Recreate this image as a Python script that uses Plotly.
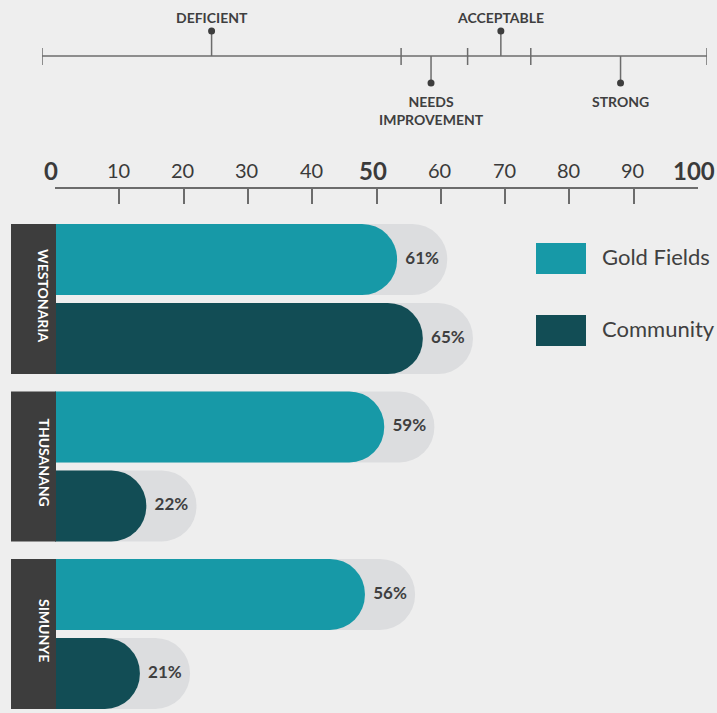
import plotly.graph_objects as go

W, H = 717, 713

# ---------------- data ----------------
GROUPS = ["WESTONARIA", "THUSANANG", "SIMUNYE"]
SERIES = ["Gold Fields", "Community"]
GOLD_FIELDS = [61, 59, 56]
COMMUNITY = [65, 22, 21]

TICK_VALUES = [0, 10, 20, 30, 40, 50, 60, 70, 80, 90, 100]
TICK_LABELS = ["0", "10", "20", "30", "40", "50", "60", "70", "80", "90", "100"]
MAJOR_TICKS = [0, 50, 100]

RATING_LABELS = ["DEFICIENT", "NEEDS<br>IMPROVEMENT", "ACCEPTABLE", "STRONG"]
RATING_POS = [25.5, 58.5, 69, 87]
RATING_SIDE = [1, -1, 1, -1]          # 1 = label above the line, -1 = below
RATING_BOUNDS = [0, 54, 64, 73.5, 100]

# ---------------- styles ----------------
BG = "#eeeeee"
COLORS = ["#1799a7", "#124d55"]
PILL = "#dcdddf"
BOX = "#3d3d3d"
TEXT = "#3f3f3f"
LINE = "#6c6c6c"
FONT = "Lato"

GROUP_STEP = 2.12     # y-units between groups (one bar slot = 1)
BAR_W = 0.9
LABEL_GAP = 7.8       # axis units between coloured end and pill end
Y_RANGE = [5.741, -3.285]
X_DOMAIN = [55 / W, 698 / W]


def ypos(g, s):
    return g * GROUP_STEP + s


fig = go.Figure()

series_vals = [GOLD_FIELDS, COMMUNITY]

# grey pills (x / y)
for s, vals in enumerate(series_vals):
    fig.add_trace(go.Bar(
        x=vals, y=[ypos(g, s) for g in range(len(GROUPS))], orientation="h",
        width=BAR_W, marker=dict(color=PILL, cornerradius="50%", line=dict(width=0)),
        hoverinfo="skip", showlegend=False, xaxis="x", yaxis="y"))

# coloured bars (x3 / y3, overlaying the same scales)
for s, vals in enumerate(series_vals):
    fig.add_trace(go.Bar(
        x=[v - LABEL_GAP for v in vals], y=[ypos(g, s) for g in range(len(GROUPS))],
        orientation="h", width=BAR_W, name=SERIES[s],
        marker=dict(color=COLORS[s], cornerradius="50%", line=dict(width=0)),
        hoverinfo="skip", showlegend=False, xaxis="x3", yaxis="y3"))

# value labels
for s, vals in enumerate(series_vals):
    fig.add_trace(go.Scatter(
        x=[v - LABEL_GAP / 2 for v in vals], y=[ypos(g, s) for g in range(len(GROUPS))],
        mode="text", text=[f"<b>{v}%</b>" for v in vals],
        textfont=dict(family=FONT, size=17, color=TEXT), textposition="middle center",
        hoverinfo="skip", showlegend=False, xaxis="x3", yaxis="y3"))

# ---------------- top rating scale ----------------
STEM_UP, STEM_DOWN = 25, 27
fig.add_trace(go.Scatter(x=[RATING_BOUNDS[0], RATING_BOUNDS[-1]], y=[0, 0], mode="lines",
                         line=dict(color=LINE, width=1.5), hoverinfo="skip",
                         showlegend=False, xaxis="x2", yaxis="y2"))
bx, by = [], []
for b in RATING_BOUNDS:
    bx += [b, b, None]
    by += [-9, 8, None]
fig.add_trace(go.Scatter(x=bx, y=by, mode="lines", line=dict(color=LINE, width=1.5),
                         hoverinfo="skip", showlegend=False, xaxis="x2", yaxis="y2"))
sx, sy, dx, dy = [], [], [], []
for p, sd in zip(RATING_POS, RATING_SIDE):
    end = STEM_UP if sd > 0 else -STEM_DOWN
    sx += [p, p, None]
    sy += [0, end, None]
    dx.append(p)
    dy.append(end)
fig.add_trace(go.Scatter(x=sx, y=sy, mode="lines", line=dict(color=LINE, width=1.5),
                         hoverinfo="skip", showlegend=False, xaxis="x2", yaxis="y2"))
fig.add_trace(go.Scatter(x=dx, y=dy, mode="markers", marker=dict(color=BOX, size=7),
                         hoverinfo="skip", showlegend=False, xaxis="x2", yaxis="y2"))

annotations = []
for lab, p, sd in zip(RATING_LABELS, RATING_POS, RATING_SIDE):
    if sd > 0:
        annotations.append(dict(x=p, y=39, xref="x2", yref="y2", text=f"<b>{lab}</b>",
                                showarrow=False, yanchor="middle",
                                font=dict(family=FONT, size=14, color=TEXT)))
    else:
        annotations.append(dict(x=p, y=-35, xref="x2", yref="y2", text=f"<b>{lab}</b>",
                                showarrow=False, yanchor="top",
                                font=dict(family=FONT, size=14, color=TEXT)))

# main axis tick labels
for v, t in zip(TICK_VALUES, TICK_LABELS):
    major = v in MAJOR_TICKS
    annotations.append(dict(
        x=v, y=1 - 170 / H, xref="x", yref="paper", showarrow=False,
        text=f"<b>{t}</b>" if major else t, xshift=-4 if major else -1,
        yanchor="middle",
        font=dict(family=FONT, size=24 if major else 20, color="#3a3a3a")))

# group label boxes (x in paper, y on the bar scale)
BOX_X = [11 / W, 56 / W]
shapes = []
for g, name in enumerate(GROUPS):
    y0 = ypos(g, 0) - BAR_W / 2
    y1 = ypos(g, 1) + BAR_W / 2
    shapes.append(dict(type="rect", xref="paper", yref="y", x0=BOX_X[0], x1=BOX_X[1],
                       y0=y0, y1=y1, fillcolor=BOX, line=dict(width=0), layer="above"))
    annotations.append(dict(x=sum(BOX_X) / 2, y=(y0 + y1) / 2 - 0.05, xref="paper",
                            yref="y", text=f"<b>{name}</b>", textangle=90,
                            showarrow=False,
                            font=dict(family=FONT, size=14, color="white")))

# legend
LEG_X0, LEG_X1 = 536, 586
LEG_Y = [258.5, 330.5]
for s, name in enumerate(SERIES):
    yc = LEG_Y[s]
    shapes.append(dict(type="rect", xref="paper", yref="paper",
                       x0=LEG_X0 / W, x1=LEG_X1 / W,
                       y0=1 - (yc + 15.5) / H, y1=1 - (yc - 15.5) / H,
                       fillcolor=COLORS[s], line=dict(width=0)))
    annotations.append(dict(x=600 / W, y=1 - (yc - 2) / H, xref="paper", yref="paper",
                            text=name, showarrow=False, xanchor="left", yanchor="middle",
                            font=dict(family=FONT, size=22, color="#404040")))

fig.update_layout(
    width=W, height=H, margin=dict(l=0, r=0, t=0, b=0),
    paper_bgcolor=BG, plot_bgcolor=BG, barmode="overlay", showlegend=False,
    xaxis=dict(domain=X_DOMAIN, range=[0, 100], anchor="free",
               position=1 - 188 / H, side="top", showline=True, linecolor=LINE,
               linewidth=1.5, ticks="inside", tickvals=TICK_VALUES[1:-1], ticklen=15,
               tickwidth=1.5, tickcolor=LINE, showticklabels=False, showgrid=False,
               zeroline=False, fixedrange=True),
    yaxis=dict(domain=[0, 1], range=Y_RANGE, visible=False, fixedrange=True),
    xaxis3=dict(domain=X_DOMAIN, range=[0, 100], anchor="y3", overlaying="x",
                visible=False, fixedrange=True),
    yaxis3=dict(domain=[0, 1], range=Y_RANGE, anchor="x3", overlaying="y",
                visible=False, fixedrange=True),
    xaxis2=dict(domain=[42 / W, 707 / W], range=[0, 100], anchor="y2", visible=False,
                fixedrange=True),
    yaxis2=dict(domain=[1 - 125 / H, 1 - 10 / H], range=[-69, 46], anchor="x2",
                visible=False, fixedrange=True),
    shapes=shapes, annotations=annotations,
)

fig.write_html(
    "out.html",
    config={"displayModeBar": False},
    post_script="document.body.style.margin='0';document.body.style.overflow='hidden';",
)
